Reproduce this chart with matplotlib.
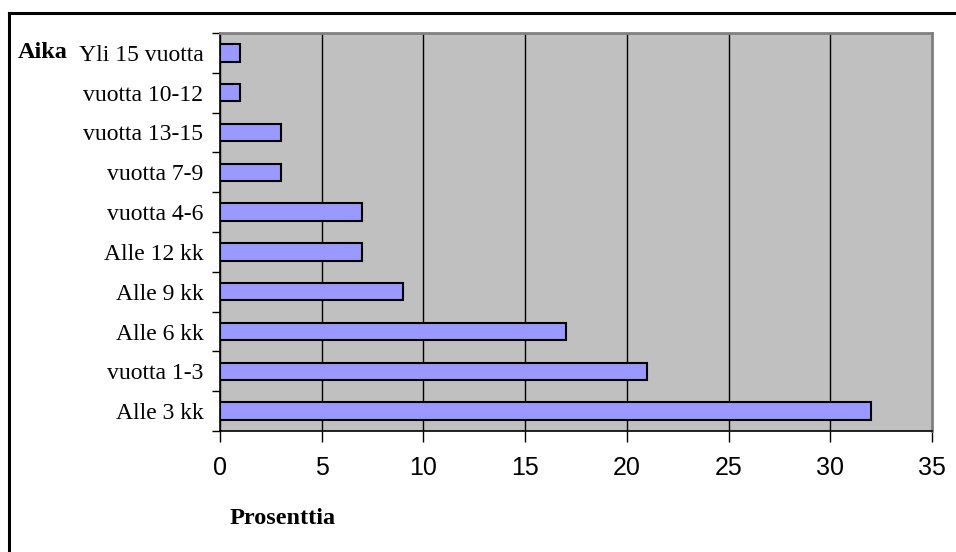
import matplotlib.pyplot as plt
from matplotlib.lines import Line2D

# categories from bottom to top
categories = ["Alle 3 kk", "vuotta 1-3", "Alle 6 kk", "Alle 9 kk", "Alle 12 kk",
              "vuotta 4-6", "vuotta 7-9", "vuotta 13-15", "vuotta 10-12", "Yli 15 vuotta"]
values = [32, 21, 17, 9, 7, 7, 3, 3, 1, 1]
x_ticks = [0, 5, 10, 15, 20, 25, 30, 35]

serif = "Liberation Serif"
sans = "Liberation Sans"

fig = plt.figure(figsize=(9.56, 5.52), dpi=100)
ax = fig.add_axes([220 / 956, 121 / 552, 712 / 956, 398 / 552])
ax.set_facecolor("#C0C0C0")

pos = list(range(len(categories)))
ax.barh(pos, values, height=0.44, color="#9999FF", edgecolor="black", linewidth=1.5, zorder=3)

ax.set_xlim(0, 35)
ax.set_ylim(-0.5, len(categories) - 0.5)

ax.set_xticks(x_ticks)
ax.set_xticklabels([str(t) for t in x_ticks], fontsize=18, family=sans)
ax.tick_params(axis="x", direction="out", length=8, width=1, pad=10, colors="black")

# tick marks between categories, labels at category centers
ax.set_yticks([p - 0.5 for p in pos] + [len(categories) - 0.5])
ax.set_yticklabels([])
ax.set_yticks(pos, minor=True)
ax.set_yticklabels(categories, minor=True, fontsize=17, family=serif)
ax.tick_params(axis="y", which="major", direction="out", length=6, width=1)
ax.tick_params(axis="y", which="minor", length=0, pad=12)

ax.grid(axis="x", color="black", linewidth=1, zorder=1)
ax.set_axisbelow(True)

for side in ["top", "right"]:
    ax.spines[side].set_color("#808080")
    ax.spines[side].set_linewidth(2)
for side in ["left", "bottom"]:
    ax.spines[side].set_color("black")
    ax.spines[side].set_linewidth(1.2)

fig.text(18 / 956, 1 - 53 / 552, "Aika", fontsize=17.5, fontweight="bold", family=serif,
         va="center", ha="left")
fig.text(283 / 956, 1 - 518 / 552, "Prosenttia", fontsize=17.5, fontweight="bold", family=serif,
         va="center", ha="center")

# outer chart frame
fig.add_artist(Line2D([8.5 / 956, 8.5 / 956], [0, 1 - 13 / 552], color="black", linewidth=2.2,
                      transform=fig.transFigure))
fig.add_artist(Line2D([8.5 / 956, 1], [1 - 13 / 552, 1 - 13 / 552], color="black", linewidth=2.2,
                      transform=fig.transFigure))

fig.savefig("out.png", dpi=100)
